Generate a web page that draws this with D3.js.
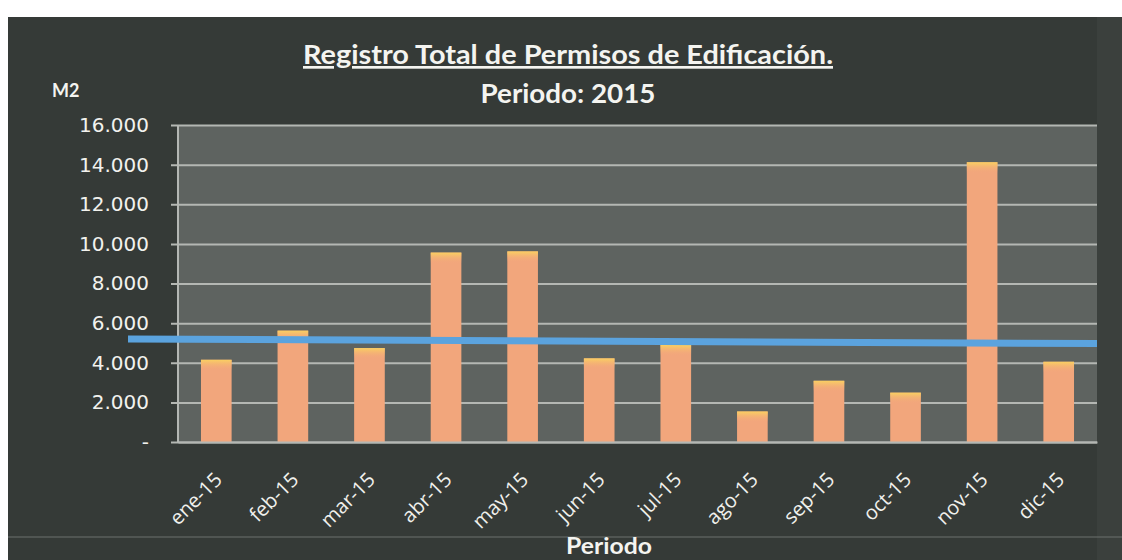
<!DOCTYPE html>
<html>
<head>
<meta charset="utf-8">
<script src="https://cdn.jsdelivr.net/npm/d3@7"></script>
<style>
  html, body { margin: 0; padding: 0; background: #ffffff; }
  svg { display: block; }
</style>
</head>
<body>
<div id="chart"></div>
<script>
'use strict'

// data (m2 per month)
const months = ['ene-15', 'feb-15', 'mar-15', 'abr-15', 'may-15', 'jun-15',
  'jul-15', 'ago-15', 'sep-15', 'oct-15', 'nov-15', 'dic-15']
const area = [4150, 5620, 4740, 9560, 9620, 4220, 4900, 1540, 3090, 2490, 14120, 4050]
const yTicks = [0, 2000, 4000, 6000, 8000, 10000, 12000, 14000, 16000]
// trend line, value at its left end and at its right end
const trend = [5200, 4970]

const width = 1122
const height = 560
const margin = {top: 125, right: 25, bottom: 118, left: 178}

const svg = d3.select('#chart')
  .append('svg')
    .attr('width', width)
    .attr('height', height)

const defs = svg.append('defs')
const glow = defs.append('linearGradient')
  .attr('id', 'barTop')
  .attr('x1', 0).attr('y1', 0).attr('x2', 0).attr('y2', 1)
glow.append('stop').attr('offset', '0%').attr('stop-color', '#fad061')
glow.append('stop').attr('offset', '100%').attr('stop-color', '#f2a67c').attr('stop-opacity', 0)

// dark frame of the chart
svg.append('rect')
  .attr('x', 8)
  .attr('y', 17)
  .attr('width', width - 8)
  .attr('height', height - 17)
  .attr('fill', '#353a37')

const x = d3.scaleBand()
  .domain(months)
  .range([margin.left, width - margin.right])
  .paddingInner(0.6)
  .paddingOuter(0.3)

const y = d3.scaleLinear()
  .domain([0, 16000])
  .range([height - margin.bottom, margin.top])

// plot area
svg.append('rect')
  .attr('x', margin.left)
  .attr('y', margin.top)
  .attr('width', width - margin.right - margin.left)
  .attr('height', height - margin.bottom - margin.top)
  .attr('fill', '#5e6360')

// right edge strip, slightly lighter than the frame
svg.append('rect')
  .attr('x', width - margin.right)
  .attr('y', 17)
  .attr('width', margin.right)
  .attr('height', height - 17)
  .attr('fill', '#3b403d')

const fmt = d => d === 0 ? '-' : d3.format(',')(d).replace(/,/g, '.')

const yAxis = d3.axisLeft(y)
  .tickValues(yTicks)
  .tickSize(-(width - margin.right - margin.left))
  .tickPadding(29)
  .tickFormat(fmt)

svg.append('g')
  .attr('transform', `translate(${margin.left},0)`)
  .call(yAxis)
  .call(g => {
    g.select('.domain').remove()
    g.selectAll('line')
      .attr('x1', -7)
      .attr('stroke', '#b4b7b3')
      .attr('stroke-width', 2)
    g.selectAll('text')
      .attr('fill', '#f2f2ee')
      .attr('font-family', '"DejaVu Sans", sans-serif')
      .attr('font-size', 20)
  })

// vertical axis line
svg.append('line')
  .attr('x1', margin.left).attr('x2', margin.left)
  .attr('y1', margin.top).attr('y2', height - margin.bottom)
  .attr('stroke', '#b4b7b3')
  .attr('stroke-width', 2)

// bars
const bars = svg.append('g')
  .selectAll('g')
  .data(months)
  .join('g')

bars.append('rect')
  .attr('x', d => x(d))
  .attr('y', (d, i) => y(area[i]))
  .attr('width', x.bandwidth())
  .attr('height', (d, i) => y(0) - y(area[i]))
  .attr('fill', '#f2a67c')

bars.append('rect')
  .attr('x', d => x(d))
  .attr('y', (d, i) => y(area[i]))
  .attr('width', x.bandwidth())
  .attr('height', 11)
  .attr('fill', 'url(#barTop)')

// trend line
const xr = x.range()
svg.append('line')
  .attr('x1', xr[0] - 50)
  .attr('x2', xr[1])
  .attr('y1', y(trend[0]))
  .attr('y2', y(trend[1]))
  .attr('stroke', '#5ba3de')
  .attr('stroke-width', 7)

const xAxis = d3.axisBottom(x)
  .tickSize(0)
  .tickPadding(0)

svg.append('g')
  .attr('transform', `translate(0,${height - margin.bottom})`)
  .call(xAxis)
  .call(g => {
    g.select('.domain')
      .attr('stroke', '#b4b7b3')
      .attr('stroke-width', 2)
    g.selectAll('text')
      .attr('fill', '#f0f0ec')
      .attr('font-family', '"Open Sans", sans-serif')
      .attr('font-size', 20)
      .attr('text-anchor', 'end')
      .attr('dy', 0)
      .attr('transform', 'translate(7,39) rotate(-45)')
  })

// faint fold line near the bottom
svg.append('line')
  .attr('x1', 8).attr('x2', width)
  .attr('y1', 537).attr('y2', 537)
  .attr('stroke', '#6d716e')
  .attr('stroke-width', 1)

// titles
svg.append('text')
  .attr('x', 568)
  .attr('y', 64)
  .attr('text-anchor', 'middle')
  .attr('fill', '#f4f4f0')
  .attr('font-family', 'Lato, sans-serif')
  .attr('font-weight', 'bold')
  .attr('font-size', 27)
  .attr('textLength', 530)
  .attr('lengthAdjust', 'spacingAndGlyphs')
  .attr('text-decoration', 'underline')
  .text('Registro Total de Permisos de Edificación.')

svg.append('text')
  .attr('x', 568)
  .attr('y', 103)
  .attr('text-anchor', 'middle')
  .attr('fill', '#f4f4f0')
  .attr('font-family', 'Lato, sans-serif')
  .attr('font-weight', 'bold')
  .attr('font-size', 27)
  .attr('textLength', 175)
  .attr('lengthAdjust', 'spacingAndGlyphs')
  .text('Periodo: 2015')

svg.append('text')
  .attr('x', 52)
  .attr('y', 97)
  .attr('fill', '#f4f4f0')
  .attr('font-family', 'Lato, sans-serif')
  .attr('font-weight', 'bold')
  .attr('font-size', 18)
  .text('M2')

svg.append('text')
  .attr('x', 609)
  .attr('y', 554)
  .attr('text-anchor', 'middle')
  .attr('fill', '#f4f4f0')
  .attr('font-family', 'Lato, sans-serif')
  .attr('font-weight', 'bold')
  .attr('font-size', 23)
  .attr('textLength', 86)
  .attr('lengthAdjust', 'spacingAndGlyphs')
  .text('Periodo')
</script>
</body>
</html>
